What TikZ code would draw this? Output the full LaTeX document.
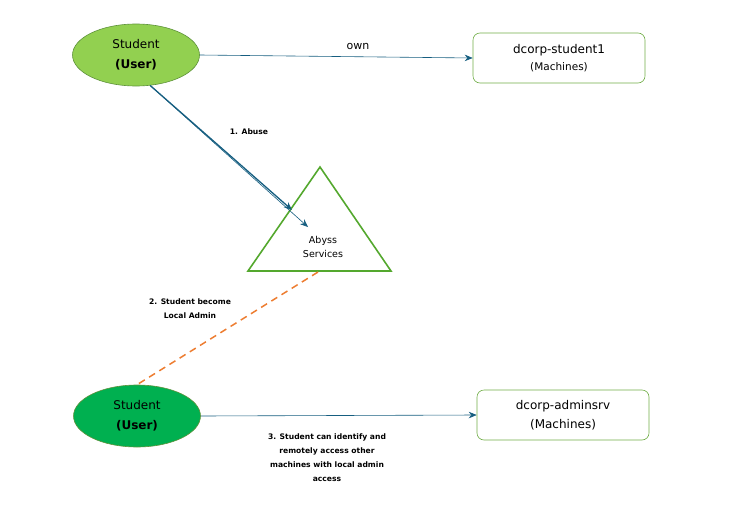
\documentclass[tikz,border=0pt]{standalone}
\usepackage{fontspec}
\setmainfont{DejaVu Sans}
\usetikzlibrary{arrows.meta,shapes.geometric,positioning}
\definecolor{usergreen}{RGB}{146,208,80}
\definecolor{admingreen}{RGB}{0,176,80}
\definecolor{boxgreen}{RGB}{112,173,71}
\definecolor{trigreen}{RGB}{84,168,46}
\definecolor{linkblue}{RGB}{22,94,128}
\definecolor{dashorange}{RGB}{237,125,49}
\tikzstyle{user}=[ellipse,draw=boxgreen!85!black,minimum width=127pt,minimum height=62pt,align=center,font=\fontsize{12}{20}\selectfont]
\tikzstyle{machine}=[rectangle,rounded corners=7pt,draw=boxgreen,minimum width=172pt,minimum height=50pt,align=center,font=\fontsize{12}{19}\selectfont]
\tikzstyle{note}=[align=center,font=\fontsize{7.6}{14}\selectfont\bfseries]
\tikzstyle{post}=[-{Stealth[length=8pt,width=6.5pt]},draw=linkblue]

\begin{document}
\begin{tikzpicture}[
    x=1pt,y=-1pt,
    semithick
    ]
    \useasboundingbox (0,0) rectangle (744,530);
    % users
    \node[user,fill=usergreen](student) at (136,55){Student\\\textbf{(User)}};
    \node[user,fill=admingreen](admin) at (137,416){Student\\\textbf{(User)}};
    % machines
    \node[machine,font=\fontsize{12}{17}\selectfont](mach1) at (559,58){dcorp-student1\\\fontsize{10.5}{14}\selectfont(Machines)};
    \node[machine](mach2) at (563,415){dcorp-adminsrv\\(Machines)};
    % service
    \coordinate (apex) at (320,167);
    \coordinate (baseL) at (248,271);
    \coordinate (baseR) at (391,271);
    \draw[trigreen,line width=1.6pt] (apex) -- (baseR) -- (baseL) -- cycle;
    \node[align=center,font=\fontsize{9.5}{14}\selectfont](abyss) at (323,247){Abyss\\Services};
    \coordinate (hitA) at (292,210);
    \coordinate (hitB) at (308,227);
    \coordinate (dashtop) at (318,272);
    % links
    \draw[post] (student.east) -- node[pos=0.58,above=3pt,font=\fontsize{11}{13}\selectfont,text=black] {own} (mach1.west);
    \draw[post] (admin.east) -- (mach2.west);
    \draw[post,line width=1.3pt] (student.-65) -- (hitA);
    \draw[post] (student.-65) -- (hitB);
    \draw[dashorange,line width=1.5pt,dash pattern=on 7pt off 5pt] (dashtop) -- (admin.north);
    % labels
    \node[note](lab1) at (249,132){1. Abuse};
    \node[note](lab2) at (190,309){2. Student become\\Local Admin};
    \node[note](lab3) at (327,458){3. Student can identify and\\remotely access other\\machines with local admin\\access};
\end{tikzpicture}
\end{document}
